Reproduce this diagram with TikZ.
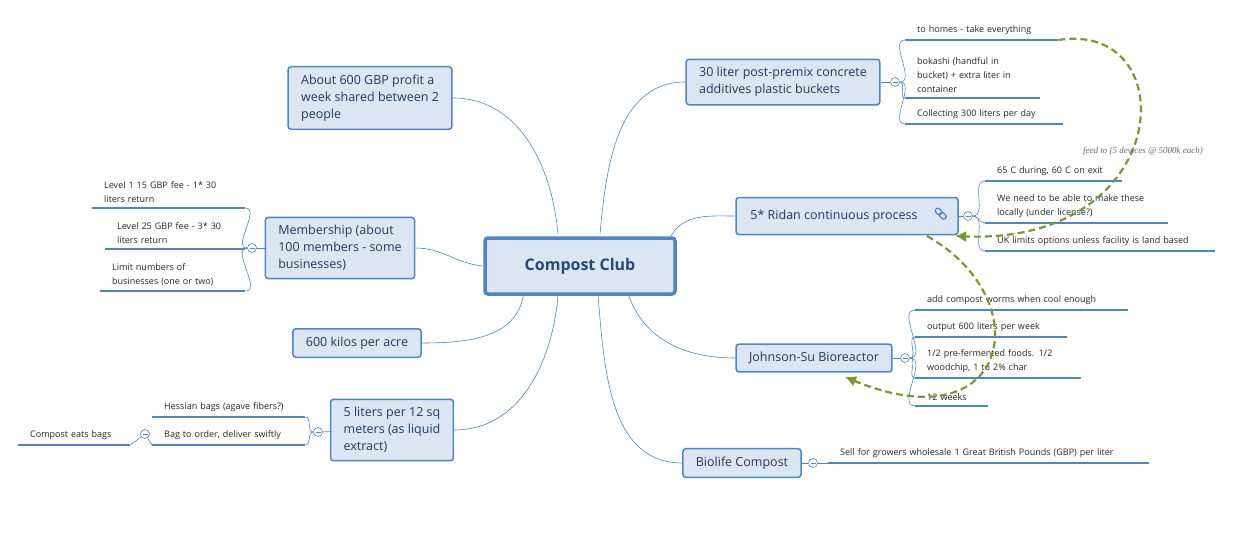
\documentclass[tikz,border=0pt]{standalone}
\usepackage{fontspec}
\setmainfont{Open Sans}
\newfontfamily\notefont{Liberation Serif}
\usetikzlibrary{arrows.meta}
\definecolor{topicfill}{HTML}{DCE6F2}
\definecolor{topicline}{HTML}{4A86C8}
\definecolor{topictext}{HTML}{1F3A5F}
\definecolor{relgreen}{HTML}{769A2E}
\begin{document}
\begin{tikzpicture}[x=1pt, y=-1pt]
\tikzstyle{main}=[rectangle, rounded corners=3pt, fill=topicfill, draw=topicline, line width=1.5pt, text=topictext, font=\fontsize{12.5}{17}\selectfont, align=left, inner xsep=13pt, inner ysep=8pt]
\tikzstyle{central}=[main, line width=3.5pt, minimum width=190pt, minimum height=56pt, align=center, font=\fontsize{16}{18}\selectfont\bfseries, text=topictext!80!topicline]
\tikzstyle{sub}=[anchor=south west, inner xsep=12pt, inner ysep=5pt, align=left, text=black!85, font=\fontsize{9}{14}\selectfont, append after command={(\tikzlastnode.south west) edge[underline] (\tikzlastnode.south east)}]
\tikzstyle{underline}=[draw=topicline, line width=1.8pt]
\tikzstyle{fold}=[circle, draw=topicline, fill=white, line width=0.6pt, inner sep=0pt, minimum size=9pt, path picture={\draw[topicline, line width=0.6pt] ([xshift=-2.5pt]path picture bounding box.center) -- ([xshift=2.5pt]path picture bounding box.center);}]
\tikzstyle{connect}=[draw=topicline, line width=0.6pt]
\tikzstyle{relation}=[draw=relgreen, line width=2.2pt, dash pattern=on 7pt off 4pt, -{Latex[length=11pt, width=11pt]}]
\useasboundingbox (0,0) rectangle (1233,546);
% central topic
\node[central] (club) at (580,266) {Compost Club};
% main topics
\node[main] (profit) at (370,98) {About 600 GBP profit a\\week shared between 2\\people};
\node[main] (member) at (340,248) {Membership (about\\100 members - some\\businesses)};
\node[main] (kilos) at (357,343) {600 kilos per acre};
\node[main] (liters) at (392,430) {5 liters per 12 sq\\meters (as liquid\\extract)};
\node[main] (buckets) at (783,82) {30 liter post-premix concrete\\additives plastic buckets};
\node[main, minimum width=222pt, minimum height=37pt] (ridan) at (847,216) {5* Ridan continuous process\hspace{26pt}};
\node[main] (johnson) at (814,358) {Johnson-Su Bioreactor};
\node[main] (biolife) at (742,463) {Biolife Compost};
% link icon
\begin{scope}[shift={(941,214)}, rotate=-45, topicline, line width=1.2pt]
\draw[rounded corners=2pt] (-7,-2.5) rectangle (0,2.5);
\draw[rounded corners=2pt] (-1,-2.5) rectangle (6,2.5);
\end{scope}
% fold circles
\node[fold] (fbuckets) at (895,82) {};
\node[fold] (fridan) at (968,216) {};
\node[fold] (fjohnson) at (905,358) {};
\node[fold] (fbiolife) at (813,463) {};
\node[fold] (fmember) at (252,248) {};
\node[fold] (fliters) at (318,432) {};
\node[fold] (fbag) at (145,434) {};
% subtopics
\node[sub, text width=129pt] (homes) at (905,40) {to homes - take everything};
\node[sub, text width=111pt] (bokashi) at (905,98) {bokashi (handful in\\bucket) + extra liter in\\container};
\node[sub, text width=134pt] (collect) at (905,124) {Collecting 300 liters per day};
\node[sub, text width=113pt] (temp) at (985,181) {65 C during, 60 C on exit};
\node[sub, text width=159pt] (license) at (985,223) {We need to be able to make these\\locally (under license?)};
\node[sub, text width=206pt] (uk) at (985,251) {UK limits options unless facility is land based};
\node[sub, text width=189pt] (worms) at (915,310) {add compost worms when cool enough};
\node[sub, text width=128pt] (output) at (915,337) {output 600 liters per week};
\node[sub, text width=142pt] (foods) at (915,378) {1/2 pre-fermented foods. 1/2\\woodchip, 1 to 2\% char};
\node[sub, text width=49pt] (weeks) at (915,406) {12 weeks};
\node[sub, text width=297pt] (sell) at (828,463) {Sell for growers wholesale 1 Great British Pounds (GBP) per liter};
\node[sub, text width=129pt] (level1) at (92,208) {Level 1 15 GBP fee - 1* 30\\liters return};
\node[sub, text width=116pt] (level25) at (105,249) {Level 25 GBP fee - 3* 30\\liters return};
\node[sub, text width=121pt] (limit) at (100,291) {Limit numbers of\\businesses (one or two)};
\node[sub, text width=129pt] (hessian) at (152,417) {Hessian bags (agave fibers?)};
\node[sub, text width=129pt] (bag) at (152,445) {Bag to order, deliver swiftly};
\node[sub, text width=88pt] (eats) at (18,445) {Compost eats bags};
% main branches
\draw[connect] (club.north) ++(-22,-2) to[out=95, in=0] (profit.east);
\draw[connect] (club.west) to[out=175, in=0] (member.east);
\draw[connect] (club.south west) ++(40,0) to[out=260, in=0] (kilos.east);
\draw[connect] (club.south) ++(-22,0) to[out=265, in=0] (liters.east);
\draw[connect] (club.north) ++(20,-2) to[out=85, in=180] (buckets.west);
\draw[connect] (club.north east) ++(-6,0) to[out=60, in=180] (ridan.west);
\draw[connect] (club.south east) ++(-48,0) to[out=290, in=180] (johnson.west);
\draw[connect] (club.south) ++(18,0) to[out=275, in=180] (biolife.west);
% fold links
\draw[connect] (buckets) -- (fbuckets);
\draw[connect] (ridan) -- (fridan);
\draw[connect] (johnson) -- (fjohnson);
\draw[connect] (biolife) -- (fbiolife);
\draw[connect] (member) -- (fmember);
\draw[connect] (liters) -- (fliters);
\draw[connect] (bag.south west) -- (fbag);
% sub branches
\foreach \s in {homes, bokashi, collect} \draw[connect] (fbuckets) to[out=0, in=180] (\s.south west);
\foreach \s in {temp, license, uk} \draw[connect] (fridan) to[out=0, in=180] (\s.south west);
\foreach \s in {worms, output, foods, weeks} \draw[connect] (fjohnson) to[out=0, in=180] (\s.south west);
\draw[connect] (fbiolife) -- (sell.south west);
\foreach \s in {level1, level25, limit} \draw[connect] (fmember) to[out=180, in=0] (\s.south east);
\foreach \s in {hessian, bag} \draw[connect] (fliters) to[out=180, in=0] (\s.south east);
\draw[connect] (fbag) -- (eats.south east);
% relations
\coordinate (ridanin) at (955,236);
\coordinate (ridanout) at (927,236);
\coordinate (johnsonin) at (845,377);
\draw[relation] (homes.south east) .. controls (1185,20) and (1175,245) .. (ridanin);
\node[font=\notefont\itshape\fontsize{9}{11}\selectfont, text=black!60] (feed) at (1143,151) {feed to (5 devices @ 5000k each)};
\draw[relation] (ridanout) .. controls (1040,300) and (1010,445) .. (johnsonin);
\end{tikzpicture}
\end{document}
